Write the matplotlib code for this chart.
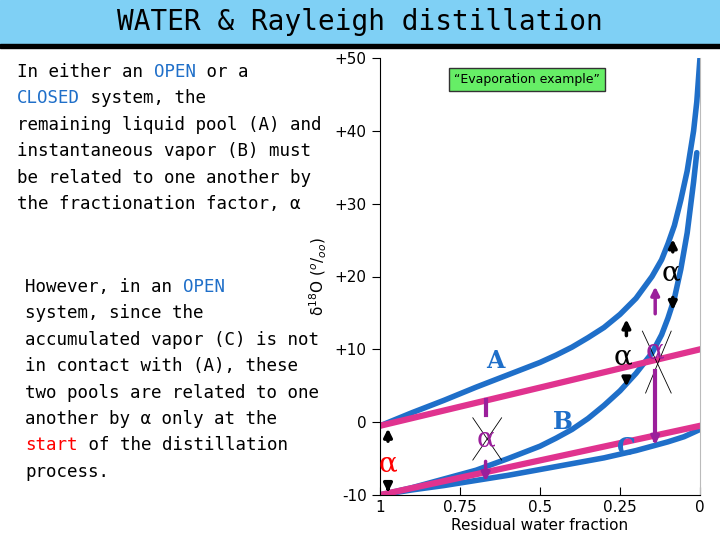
import matplotlib
matplotlib.use("Agg")
import matplotlib.pyplot as plt
import numpy as np

frac_A = [1.0, 0.9, 0.8, 0.7, 0.6, 0.5, 0.45, 0.4, 0.35, 0.3, 0.25, 0.2, 0.15, 0.12, 0.1, 0.08, 0.06, 0.04, 0.02, 0.01, 0.0]
d_A = [-0.5, 1.3, 3.0, 4.8, 6.5, 8.2, 9.2, 10.3, 11.6, 13.0, 14.8, 17.0, 20.0, 22.3, 24.5, 27.0, 30.5, 34.5, 40.0, 44.0, 50.0]
frac_B = [1.0, 0.9, 0.8, 0.7, 0.6, 0.5, 0.45, 0.4, 0.35, 0.3, 0.25, 0.2, 0.15, 0.12, 0.1, 0.08, 0.06, 0.04, 0.02, 0.01]
d_B = [-10.0, -9.0, -7.8, -6.6, -5.0, -3.3, -2.2, -1.0, 0.5, 2.3, 4.3, 6.7, 9.5, 12.0, 14.3, 17.0, 21.0, 26.0, 33.0, 37.0]
frac_C = [1.0, 0.9, 0.8, 0.7, 0.6, 0.5, 0.4, 0.3, 0.25, 0.2, 0.15, 0.1, 0.05, 0.0]
d_C = [-10.0, -9.3, -8.7, -8.0, -7.3, -6.5, -5.7, -4.9, -4.4, -3.9, -3.3, -2.7, -2.0, -1.0]
line_top = ([1.0, 0.0], [-0.5, 10.0])
line_bot = ([1.0, 0.0], [-10.0, -0.5])
xticks = [1, 0.75, 0.5, 0.25, 0]
xticklabels = ["1", "0.75", "0.5", "0.25", "0"]
yticks = [-10, 0, 10, 20, 30, 40, 50]
yticklabels = ["-10", "0", "+10", "+20", "+30", "+40", "+50"]

fig = plt.figure(figsize=(7.2, 5.4), dpi=100)
fig.patches.append(plt.Rectangle((0, 1-44/540), 1, 44/540, transform=fig.transFigure,
                                 color="#7fd0f5", zorder=0))
fig.patches.append(plt.Rectangle((0, 1-48/540), 1, 4/540, transform=fig.transFigure,
                                 color="black", zorder=1))
fig.text(0.5, 1-22/540, "WATER & Rayleigh distillation", ha="center", va="center",
         fontsize=20, family="DejaVu Sans Mono")

ax = fig.add_axes([380/720, 1-495/540, 320/720, 437/540])
blue = "#1f6fc9"
pink = "#e0338f"
purple = "#9b1f9b"
ax.plot(frac_A, d_A, color=blue, lw=4, solid_capstyle="round")
ax.plot(frac_B, d_B, color=blue, lw=4, solid_capstyle="round")
ax.plot(frac_C, d_C, color=blue, lw=4, solid_capstyle="round")
ax.plot(*line_top, color=pink, lw=4.5)
ax.plot(*line_bot, color=pink, lw=4.5)
ax.set_xlim(1, 0)
ax.set_ylim(-10, 50)
ax.set_xticks(xticks, xticklabels)
ax.set_yticks(yticks, yticklabels)
ax.tick_params(axis="x", direction="in", length=6, labelsize=11)
ax.tick_params(axis="y", direction="out", length=6, labelsize=11)
ax.spines["top"].set_visible(False)
ax.spines["right"].set_color("#bbbbbb")
ax.set_xlabel("Residual water fraction", fontsize=11, labelpad=2)
ax.set_ylabel("δ$^{18}$O ($^o/_{oo}$)", fontsize=11, labelpad=4)

ax.text(0.54, 47, "“Evaporation example”", ha="center", va="center", fontsize=9,
        bbox=dict(boxstyle="square,pad=0.4", fc="#66ee66", ec="#333333"))
ax.text(0.64, 7.5, "A", color=blue, fontsize=17, family="DejaVu Serif", weight="bold", ha="center")
ax.text(0.43, -1.0, "B", color=blue, fontsize=17, family="DejaVu Serif", weight="bold", ha="center")
ax.text(0.23, -4.5, "C", color=blue, fontsize=17, family="DejaVu Serif", weight="bold", ha="center")

def arrow(x, y0, y1, color, lw=2.5):
    ax.annotate("", xy=(x, y1), xytext=(x, y0),
                arrowprops=dict(arrowstyle="-|>", color=color, lw=lw, mutation_scale=12))

def alpha(x, y, color):
    ax.text(x, y, "α", color=color, fontsize=20, family="DejaVu Serif",
            ha="center", va="center")

alpha(0.975, -5.8, "red")
arrow(0.975, -3.0, -0.5, "black")
arrow(0.975, -8.5, -10.0, "black")
alpha(0.67, -2.3, purple)
ax.plot([0.71, 0.62], [0.6, -5.2], color="black", lw=0.6)
ax.plot([0.71, 0.62], [-5.2, 0.6], color="black", lw=0.6)
ax.plot([0.67, 0.67], [3.0, 1.0], color=purple, lw=3)
arrow(0.67, -5.0, -8.5, purple)
alpha(0.24, 9.0, "black")
arrow(0.23, 11.5, 14.5, "black")
arrow(0.23, 6.5, 4.5, "black")
alpha(0.14, 9.8, purple)
ax.plot([0.18, 0.09], [12.5, 4.0], color="black", lw=0.6)
ax.plot([0.17, 0.09], [4.0, 12.5], color="black", lw=0.6)
ax.plot([0.14, 0.14], [-2.5, 7.0], color=purple, lw=3)
arrow(0.14, 14.5, 19.0, purple)
arrow(0.14, 0.0, -3.5, purple)
alpha(0.09, 20.5, "black")
arrow(0.085, 23.0, 25.5, "black")
arrow(0.085, 17.5, 15.0, "black")

mono = "DejaVu Sans Mono"
fs = 12.6
cw = 0.602 * fs / 72 * 100 / 720
para1 = [
    [("In either an ", "k"), ("OPEN", blue), (" or a", "k")],
    [("CLOSED", blue), (" system, the", "k")],
    [("remaining liquid pool (A) and", "k")],
    [("instantaneous vapor (B) must", "k")],
    [("be related to one another by", "k")],
    [("the fractionation factor, α", "k")],
]
para2 = [
    [("However, in an ", "k"), ("OPEN", blue)],
    [("system, since the", "k")],
    [("accumulated vapor (C) is not", "k")],
    [("in contact with (A), these", "k")],
    [("two pools are related to one", "k")],
    [("another by α only at the", "k")],
    [("start", "red"), (" of the distillation", "k")],
    [("process.", "k")],
]
def draw(par, x0, ytop, dy):
    for i, segs in enumerate(par):
        x = x0
        y = 1 - (ytop + i * dy) / 540
        for s, c in segs:
            fig.text(x, y, s, color=c, fontsize=fs, family=mono, va="center")
            x += len(s) * cw
draw(para1, 17/720, 72, 26.4)
draw(para2, 25/720, 287, 26.4)

fig.savefig("out.png", dpi=100)
